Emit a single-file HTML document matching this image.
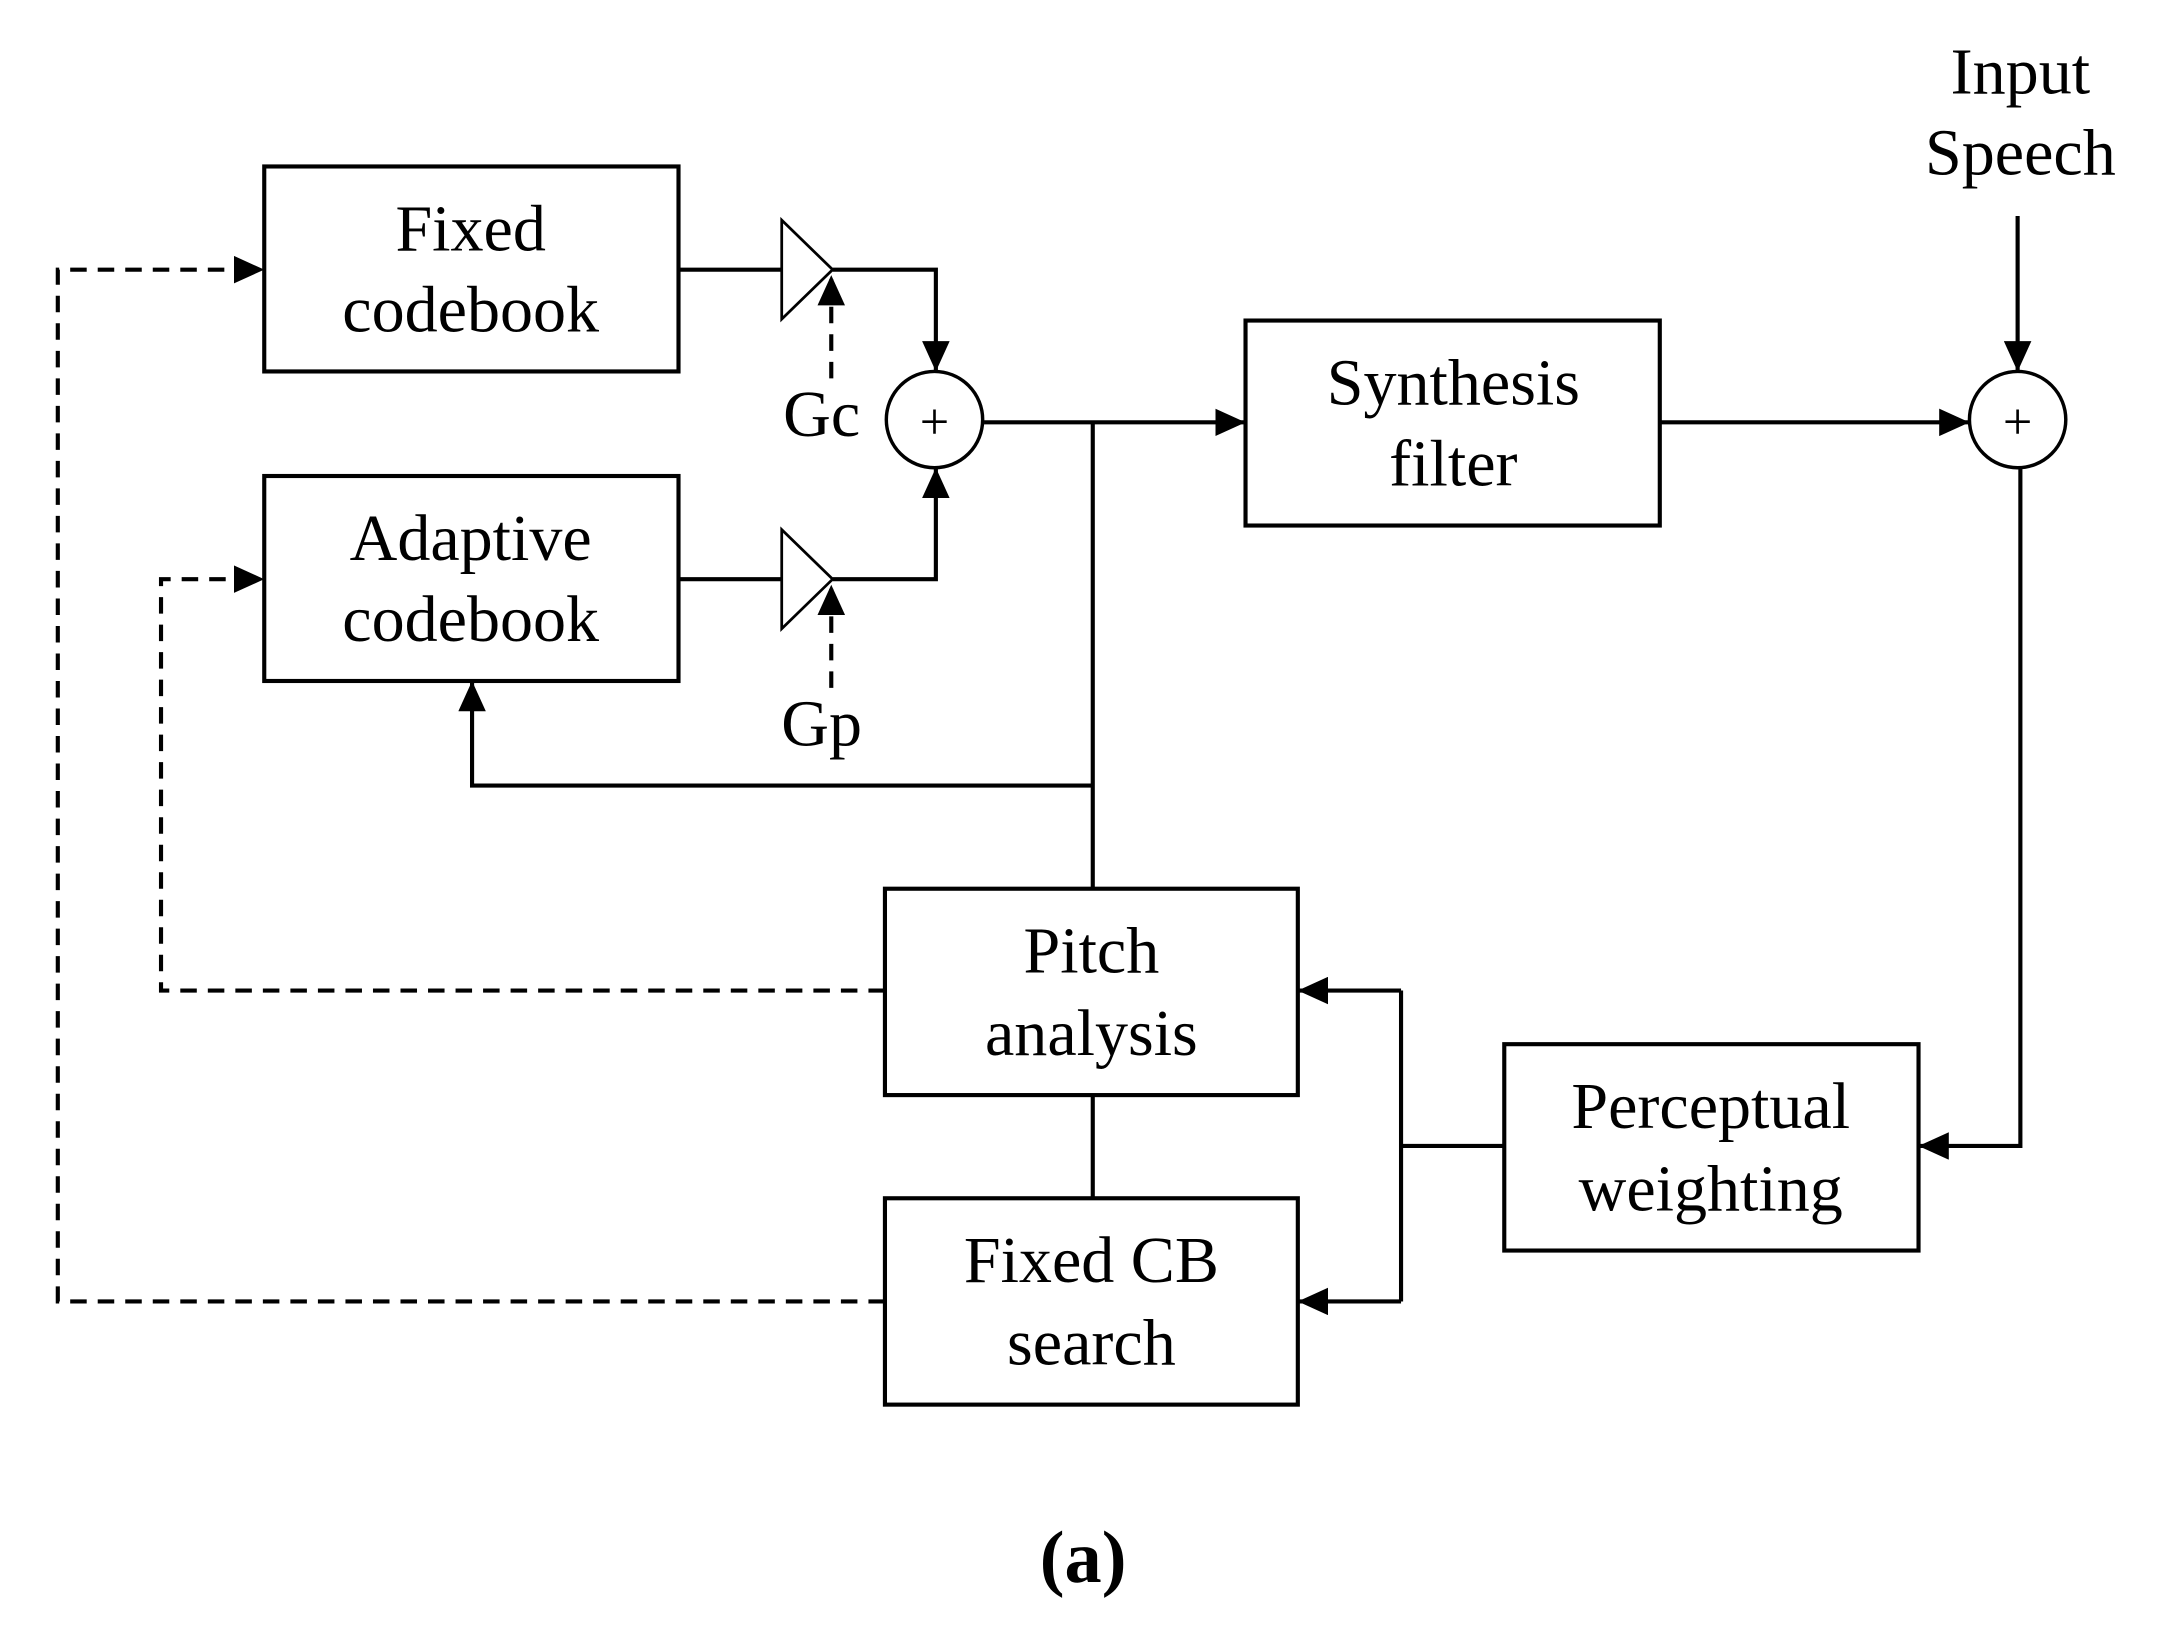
<!DOCTYPE html>
<html><head><style>html,body{margin:0;padding:0;background:#fff}svg{display:block}</style></head><body>
<svg width="2158" height="1633" viewBox="0 0 1568 1187" preserveAspectRatio="none" xmlns="http://www.w3.org/2000/svg">
<defs>
<marker id="b" markerWidth="22" markerHeight="20" refX="22" refY="10" orient="auto" markerUnits="userSpaceOnUse"><path d="M0,0 L22,10 L0,20 z" fill="#000"/></marker></defs>
<g fill="none" stroke="#000" stroke-width="3">
<rect x="192" y="121" width="301" height="149"/>
<rect x="192" y="346" width="301" height="149"/>
<rect x="905" y="233" width="301" height="149"/>
<rect x="643" y="646" width="300" height="150"/>
<rect x="643" y="871" width="300" height="150"/>
<rect x="1093" y="759" width="301" height="150"/>
<circle cx="679" cy="305" r="35" stroke-width="2.5"/>
<circle cx="1466" cy="305" r="35" stroke-width="2.5"/>
<path d="M568,160 L605,196 L568,232 Z" stroke-width="2"/>
<path d="M568,385 L605,421 L568,457 Z" stroke-width="2"/>
<path d="M493,196 H568"/><path d="M605,196 H680 V270" marker-end="url(#b)"/>
<path d="M493,421 H568"/><path d="M605,421 H680 V340" marker-end="url(#b)"/>
<path d="M715,307 H905" marker-end="url(#b)"/>
<path d="M794,307 V646"/>
<path d="M794,571 H343 V495" marker-end="url(#b)"/>
<path d="M1206,307 H1431" marker-end="url(#b)"/>
<path d="M1466,157 V270" marker-end="url(#b)"/>
<path d="M1468,340 V833 H1394" marker-end="url(#b)"/>
<path d="M1093,833 H1018"/>
<path d="M1018,720 V946"/>
<path d="M1018,720 H943" marker-end="url(#b)"/>
<path d="M1018,946 H943" marker-end="url(#b)"/>
<path d="M794,796 V871"/>
<g stroke-dasharray="12,8">
<path d="M604,275 V200" marker-end="url(#b)"/>
<path d="M604,500 V425" marker-end="url(#b)"/>
<path d="M643,720 H117 V421 H192" marker-end="url(#b)"/>
<path d="M643,946 H42 V196 H192" marker-end="url(#b)"/>
</g>
</g>
<g font-family="Liberation Serif, serif" font-size="48" text-anchor="middle" fill="#000">
<text x="342" y="182">Fixed</text><text x="342" y="241">codebook</text>
<text x="342" y="407">Adaptive</text><text x="342" y="466">codebook</text>
<text x="1056" y="294">Synthesis</text><text x="1056" y="353">filter</text>
<text x="793" y="707">Pitch</text><text x="793" y="767">analysis</text>
<text x="793" y="932">Fixed CB</text><text x="793" y="992">search</text>
<text x="1243" y="820">Perceptual</text><text x="1243" y="880">weighting</text>
<text x="1468" y="68">Input</text><text x="1468" y="127">Speech</text>
<text x="597" y="317">Gc</text><text x="597" y="542">Gp</text>
<text x="679" y="319" font-size="38">+</text><text x="1466" y="319" font-size="38">+</text>
<text x="787" y="1150" font-weight="bold" font-size="54">(a)</text>
</g>
</svg>
</body></html>
